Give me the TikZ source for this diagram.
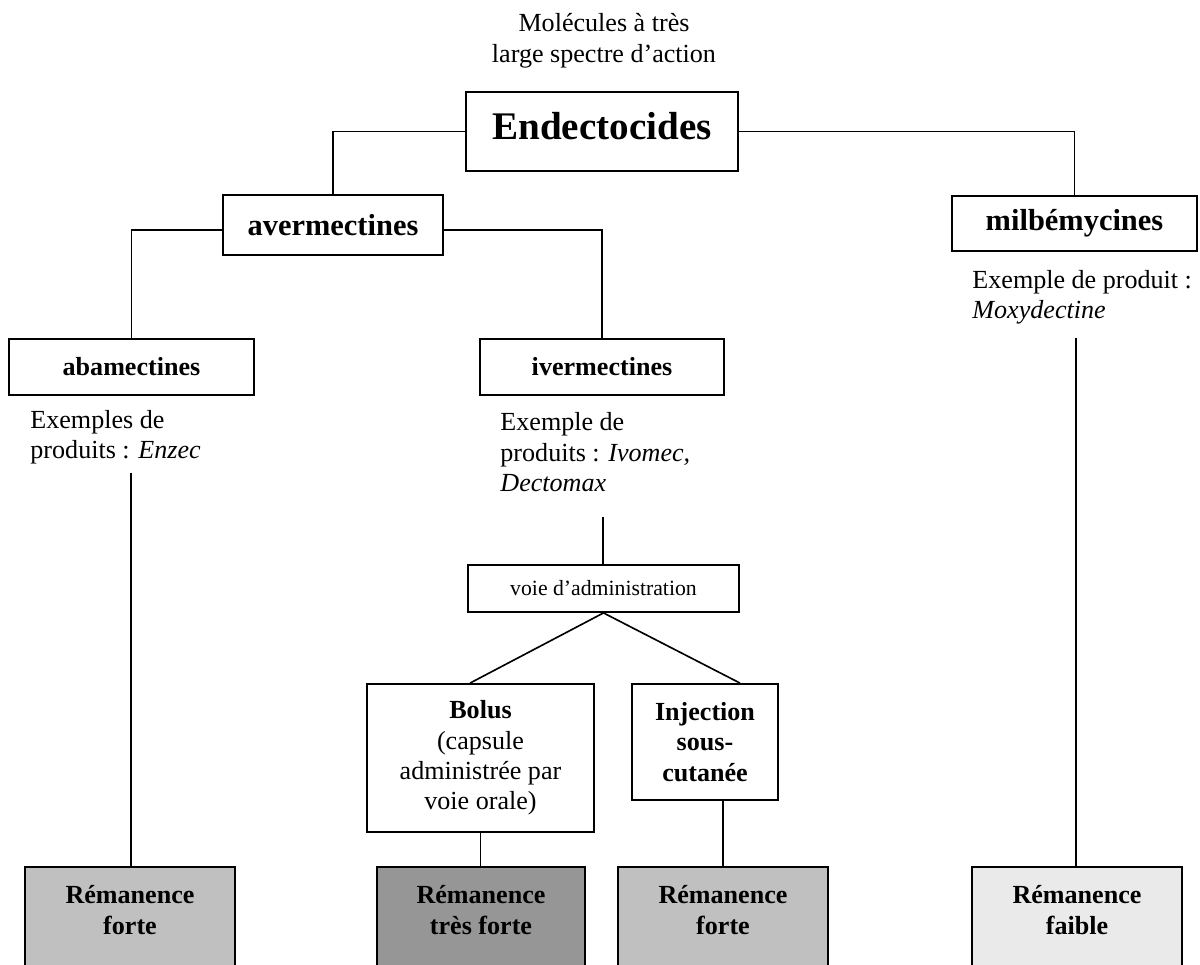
\documentclass[tikz,border=0pt]{standalone}
\usepackage{fontspec}
\setmainfont{Liberation Serif}
\definecolor{remforte}{RGB}{192,192,192}
\definecolor{remtresforte}{RGB}{150,150,150}
\definecolor{remfaible}{RGB}{234,234,234}
\def\pxu{0.46pt}
\begin{document}
\begin{tikzpicture}[x=0.46pt,y=-0.46pt,
  every node/.style={font=\fontsize{12}{14}\selectfont},
  box/.style={draw,line width=0.85pt,inner sep=0pt,align=center},
  rembox/.style={draw,line width=0.85pt,inner sep=0pt,minimum width=210*\pxu,minimum height=120*\pxu},
  remtxt/.style={align=center,inner sep=0pt,font=\bfseries\fontsize{12}{14}\selectfont},
  note/.style={align=left,inner sep=0pt,anchor=west},
  conn/.style={line width=0.75pt}]
\useasboundingbox (0,0) rectangle (1200,965);
\clip (0,0) rectangle (1200,965);

% title
\node[align=center,inner sep=0pt,font=\fontsize{12}{14.3}\selectfont] (title) at (604,41) {Molécules à très\\large spectre d’action};

% main boxes
\node[box,minimum width=272*\pxu,minimum height=79*\pxu] (endec) at (602,131.5) {};
\node[inner sep=0pt,font=\bfseries\fontsize{18}{21}\selectfont] (endectxt) at (602,126) {Endectocides};
\node[box,minimum width=220*\pxu,minimum height=60*\pxu,font=\bfseries\fontsize{14}{16}\selectfont] (aver) at (333,225) {avermectines};
\node[box,minimum width=245*\pxu,minimum height=55*\pxu,font=\bfseries\fontsize{14}{16}\selectfont] (milb) at (1074.5,223.5) {milbémycines};
\node[box,minimum width=245*\pxu,minimum height=56*\pxu,font=\bfseries\fontsize{12}{14}\selectfont] (abam) at (131.5,367) {abamectines};
\node[box,minimum width=244*\pxu,minimum height=56*\pxu,font=\bfseries\fontsize{12}{14}\selectfont] (iver) at (602,367) {ivermectines};

% notes
\node[note] (abamtxt) at (30,437) {Exemples de\\produits : \textit{Enzec}};
\node[note] (ivertxt) at (500,452.5) {Exemple de\\produits : \textit{Ivomec,}\\\textit{Dectomax}};
\node[note] (milbtxt) at (972,297) {Exemple de produit :\\\textit{Moxydectine}};

% administration
\node[box,minimum width=271*\pxu,minimum height=47*\pxu,font=\fontsize{10}{12}\selectfont] (voie) at (603.5,588.5) {voie d’administration};
\node[box,minimum width=227*\pxu,minimum height=148*\pxu] (bolus) at (480.5,758) {\textbf{Bolus}\\(capsule\\administrée par\\voie orale)};
\node[box,minimum width=146*\pxu,minimum height=116*\pxu,font=\bfseries\fontsize{12}{14}\selectfont] (inj) at (705,742) {Injection\\sous-\\cutanée};

% remanence boxes
\node[rembox,fill=remforte] (r1) at (130,927) {};
\node[rembox,fill=remtresforte,minimum width=208*\pxu] (r2) at (481,927) {};
\node[rembox,fill=remforte] (r3) at (723,927) {};
\node[rembox,fill=remfaible] (r4) at (1077,927) {};
\node[remtxt] (t1) at (130,910) {Rémanence\\forte};
\node[remtxt] (t2) at (481,910) {Rémanence\\très forte};
\node[remtxt] (t3) at (723,910) {Rémanence\\forte};
\node[remtxt] (t4) at (1077,910) {Rémanence\\faible};

% connectors
\coordinate (ca) at (131,473);
\coordinate (ci) at (603,517);
\coordinate (cm) at (1076,338);
\draw[conn] (endec.west) -| (aver.north);
\draw[conn] (endec.east) -| (milb.north);
\draw[conn] ([yshift=-2.3pt]aver.west) -| (abam.north);
\draw[conn] ([yshift=-2.3pt]aver.east) -| (iver.north);
\draw[conn] (ca) -- (ca |- r1.north);
\draw[conn] (ci) -- (ci |- voie.north);
\draw[conn] (voie.south) -- ([xshift=-4.8pt]bolus.north);
\draw[conn] (voie.south) -- ([xshift=16.1pt]inj.north);
\draw[conn] (bolus.south) -- (bolus.south |- r2.north);
\draw[conn] (inj.south -| r3.north) -- (r3.north);
\draw[conn] (cm) -- (cm |- r4.north);
\end{tikzpicture}
\end{document}
